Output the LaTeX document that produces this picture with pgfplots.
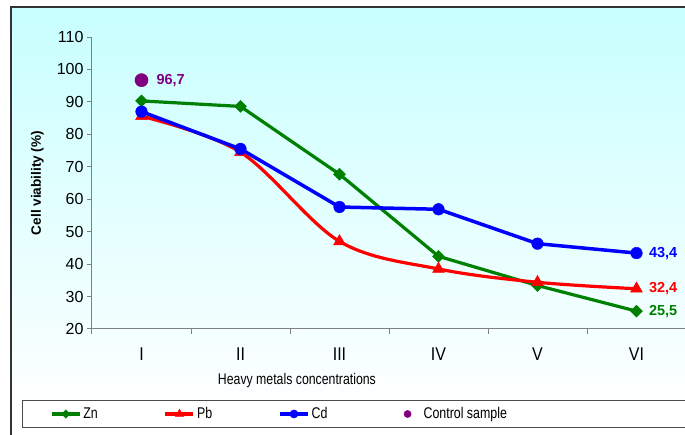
\documentclass[border=0pt]{standalone}
\usepackage{pgfplots}
\pgfplotsset{compat=1.18}
\usepackage{fontspec}
\setmainfont{Liberation Sans}
\definecolor{bgtop}{RGB}{200,255,255}
\definecolor{zn}{RGB}{0,128,0}
\definecolor{pb}{RGB}{255,0,0}
\definecolor{cd}{RGB}{0,0,255}
\definecolor{ctrl}{RGB}{128,0,128}
\definecolor{axgray}{RGB}{128,128,128}
\pgfplotsset{
  lgimg/.style={legend image code/.code={\draw[mark repeat=2,mark phase=2,##1,every mark/.append style={scale=0.7}] plot coordinates {(0pt,0pt)(14pt,0pt)(28pt,0pt)};}},
  lgdot/.style={legend image code/.code={\draw[##1,only marks,every mark/.append style={scale=0.55}] plot coordinates {(14pt,0pt)};\path[draw=none] (0pt,0pt) -- (28pt,0pt);}},
}
\begin{document}
\begin{tikzpicture}[x=1pt,y=1pt]
\useasboundingbox (0,0) rectangle (685,435);
\clip (0,0) rectangle (685,435);
\fill[white] (0,0) rectangle (685,435);
\shade[top color=bgtop, bottom color=white] (10,20) rectangle (700,428);
\fill[white] (10,0) rectangle (700,20);
\draw[line width=1.5pt, black!80] (11,-5) -- (11,428) -- (700,428);
\filldraw[fill=white, draw=black!70, line width=1pt] (22,7) rectangle (720,34);
\begin{axis}[
  at={(92pt,106pt)}, anchor=south west, scale only axis,
  width=594pt, height=292pt,
  xmin=0.5, xmax=6.5, ymin=20, ymax=110,
  axis x line*=bottom, axis y line*=left,
  axis line style={axgray, line width=1pt, -},
  xtick={0.5,1.5,...,6.5}, xticklabels={},
  extra x ticks={1,2,3,4,5,6},
  extra x tick labels={I,II,III,IV,V,VI},
  extra x tick style={tick style={draw=none}, tick label style={yshift=-10pt, yscale=1.15}},
  ytick={20,30,...,110},
  tick align=outside, major tick length=5pt,
  tick style={axgray, line width=1pt},
  /pgf/number format/assume math mode=true,
  tick label style={font=\fontsize{16}{18}\selectfont, text=black},
  xlabel={Heavy metals concentrations},
  xlabel style={at={(axis description cs:0.345,0)}, anchor=center, yshift=-52pt, yscale=1.25, font=\fontsize{12.3}{14}\selectfont},
  ylabel={Cell viability (\%)},
  ylabel style={at={(axis description cs:-0.0918,0.5)}, anchor=center, rotate=0, font=\bfseries\fontsize{13.6}{15}\selectfont},
  legend columns=4,
  legend style={draw=none, fill=none, inner sep=0pt, at={(axis description cs:-0.0707,-0.2911)}, anchor=west,
    font=\fontsize{12.4}{14}\selectfont, nodes={inner sep=2pt, yscale=1.25},
    /tikz/every odd column/.style={column sep=0pt},
    /tikz/every even column/.style={column sep=64pt}},
  clip=false,
]
\addplot[zn, line width=3.2pt, mark=square*, mark size=4.2pt, mark options={rotate=45, fill=zn, line width=0.5pt}, lgimg]
  coordinates {(1,90.3) (2,88.6) (3,67.7) (4,42.4) (5,33.4) (6,25.5)};
\addlegendentry{Zn}
\addplot[pb, line width=3.2pt, smooth, tension=0.55, mark=triangle*, mark size=6.8pt, mark options={fill=pb, line width=0.5pt}, lgimg]
  coordinates {(1,85.6) (2,74.5) (3,47.0) (4,38.5) (5,34.4) (6,32.4)};
\addlegendentry{Pb}
\addplot[cd, line width=3.5pt, mark=*, mark size=5.8pt, mark options={fill=cd, line width=0.5pt}, lgimg]
  coordinates {(1,87.0) (2,75.5) (3,57.6) (4,56.9) (5,46.3) (6,43.4)};
\addlegendentry{Cd}
\addplot[ctrl, only marks, mark=*, mark size=6.6pt, mark options={fill=ctrl, draw=ctrl}, lgdot]
  coordinates {(1,96.7)};
\addlegendentry{Control sample}
\node[anchor=west, font=\bfseries\fontsize{14.5}{16}\selectfont, text=ctrl, xshift=11.5pt] at (axis cs:1,96.7) {96,7};
\node[anchor=west, font=\bfseries\fontsize{14.5}{16}\selectfont, text=cd, xshift=9pt] at (axis cs:6,43.4) {43,4};
\node[anchor=west, font=\bfseries\fontsize{14.5}{16}\selectfont, text=pb, xshift=9pt] at (axis cs:6,32.4) {32,4};
\node[anchor=west, font=\bfseries\fontsize{14.5}{16}\selectfont, text=zn, xshift=9pt] at (axis cs:6,25.5) {25,5};
\end{axis}
\end{tikzpicture}
\end{document}
